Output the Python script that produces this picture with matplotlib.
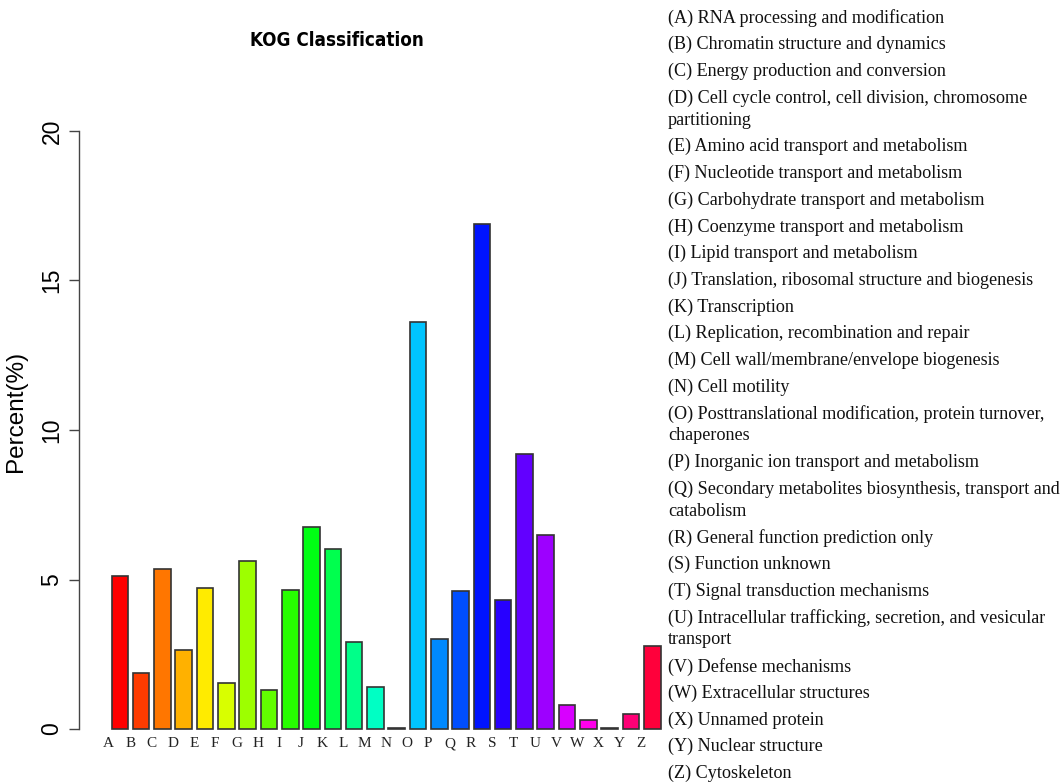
import numpy as np
import matplotlib.pyplot as plt
from matplotlib.colors import hsv_to_rgb

letters = list("ABCDEFGHIJKLMNOPQRSTUVWXYZ")
percent = [5.13, 1.87, 5.36, 2.65, 4.70, 1.54, 5.62, 1.31, 4.65, 6.76, 6.02, 2.90, 1.40,
           0.05, 13.62, 3.01, 4.60, 16.89, 4.31, 9.19, 6.50, 0.79, 0.30, 0.02, 0.49, 2.78]
descriptions = [
    "RNA processing and modification",
    "Chromatin structure and dynamics",
    "Energy production and conversion",
    "Cell cycle control, cell division, chromosome\npartitioning",
    "Amino acid transport and metabolism",
    "Nucleotide transport and metabolism",
    "Carbohydrate transport and metabolism",
    "Coenzyme transport and metabolism",
    "Lipid transport and metabolism",
    "Translation, ribosomal structure and biogenesis",
    "Transcription",
    "Replication, recombination and repair",
    "Cell wall/membrane/envelope biogenesis",
    "Cell motility",
    "Posttranslational modification, protein turnover,\nchaperones",
    "Inorganic ion transport and metabolism",
    "Secondary metabolites biosynthesis, transport and\ncatabolism",
    "General function prediction only",
    "Function unknown",
    "Signal transduction mechanisms",
    "Intracellular trafficking, secretion, and vesicular\ntransport",
    "Defense mechanisms",
    "Extracellular structures",
    "Unnamed protein",
    "Nuclear structure",
    "Cytoskeleton",
]
yticks = [0, 5, 10, 15, 20]

W, H = 1064, 784
fig = plt.figure(figsize=(W / 100, H / 100), dpi=100)
ax = fig.add_axes([79 / W, (H - 729) / H, (665 - 79) / W, (729 - 131) / H])

# rainbow palette like R's rainbow(26)
n = len(letters)
colors = [hsv_to_rgb((i / n, 1, 1)) for i in range(n)]
x = np.arange(n)
ax.bar(x, percent, width=0.78, color=colors, edgecolor='#333333', linewidth=1.2, clip_on=False)
ax.set_xlim(-1.92, 25.6)
ax.set_ylim(0, 20)

for s in ['top', 'right', 'bottom']:
    ax.spines[s].set_visible(False)
ax.spines['left'].set_color('#444444')
ax.spines['left'].set_linewidth(1.0)

ax.set_xticks(x - 0.52, letters, fontfamily='Liberation Serif', fontsize=11, color='#222222')
ax.tick_params(axis='x', length=0, pad=6)
ax.set_yticks(yticks, [str(v) for v in yticks], fontfamily='Liberation Sans', fontsize=16.5)
ax.tick_params(axis='y', length=7.2, width=1.0, color='#444444', pad=4)
for lab in ax.get_yticklabels():
    lab.set_rotation(90)
    lab.set_va('center')

fig.text(16 / W, 1 - 411 / H, 'Percent(%)', rotation=90, ha='center', va='center',
         fontsize=17.5, family='Liberation Sans')
fig.text(337 / W, 1 - 40 / H, 'KOG Classification', ha='center', va='center',
         fontsize=13.5, fontweight='bold', fontstretch='condensed', family='DejaVu Sans')

# legend block on the right
y = 18
for letter, desc in zip(letters, descriptions):
    lines = desc.split('\n')
    for k, line in enumerate(lines):
        txt = '(%s) %s' % (letter, line) if k == 0 else line
        fig.text(668 / W, 1 - y / H, txt, ha='left', va='center', fontsize=13.1,
                 family='Liberation Serif', color='#111111')
        if k < len(lines) - 1:
            y += 22
    y += 26.7

fig.savefig('out.png', dpi=100)
